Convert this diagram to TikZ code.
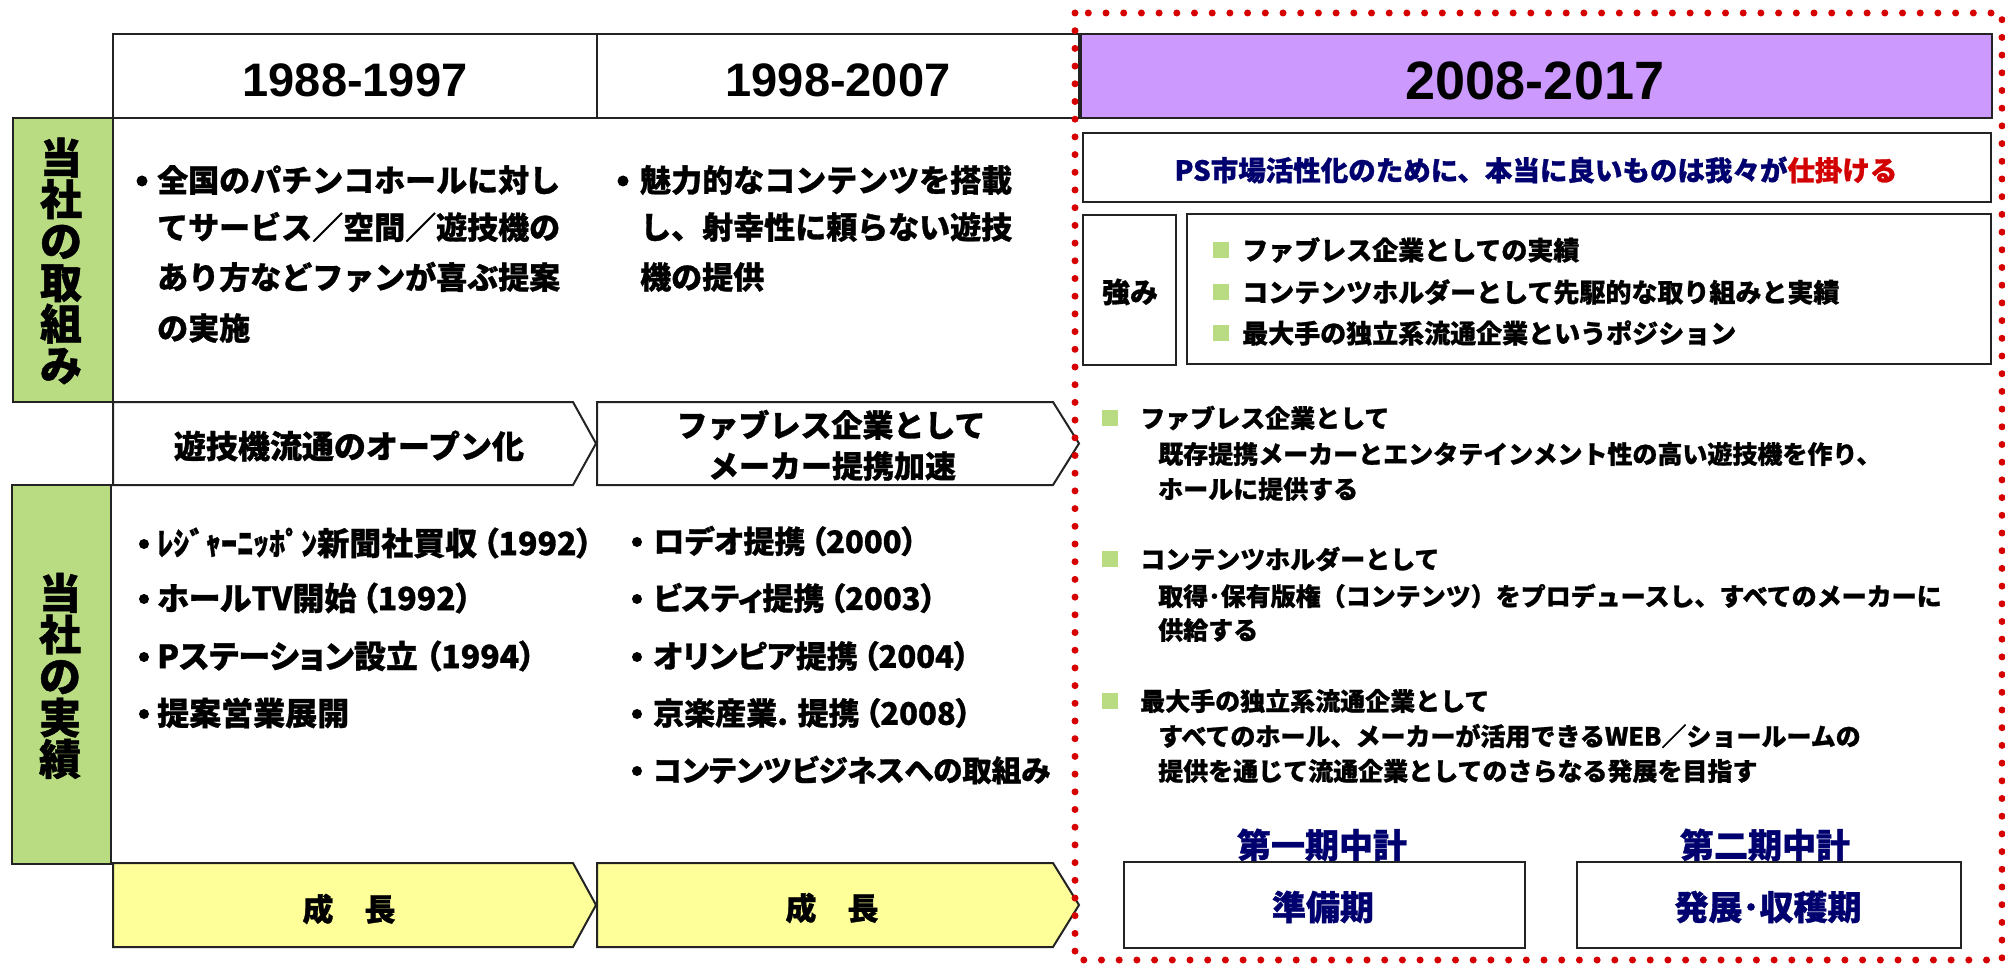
\documentclass[tikz,border=0pt]{standalone}
\usepackage{fontspec}
\setmainfont{Noto Sans CJK JP}[BoldFeatures={FakeBold=1}]
\newfontfamily\pfont{Noto Sans CJK JP}[RawFeature=+palt, BoldFeatures={FakeBold=1}]
\newfontfamily\yfont{Liberation Sans}
\definecolor{lgreen}{RGB}{185,220,130}
\definecolor{lyellow}{RGB}{255,255,153}
\definecolor{lpurple}{RGB}{204,153,255}
\definecolor{navy}{RGB}{0,0,110}
\definecolor{dred}{RGB}{210,0,0}
\definecolor{dotred}{RGB}{215,0,0}
\definecolor{edge}{RGB}{35,35,35}
\newcommand\myfs[1]{\fontsize{#1}{#1}\selectfont\bfseries}
\begin{document}
\begin{tikzpicture}[x=1pt,y=-1pt,
  box/.style={draw=edge, line width=2pt},
  rbox/.style={draw=edge, line width=2.6pt},
  yr/.style={inner sep=0pt, font=\yfont\bfseries\fontsize{47}{47}\selectfont},
  vlab/.style={inner sep=0pt, align=center, font=\fontsize{42}{41.5}\selectfont\bfseries},
  tone/.style={inner sep=0pt, anchor=west, font=\myfs{31}},
  tthree/.style={inner sep=0pt, anchor=west, font=\pfont\myfs{32}},
  tfour/.style={inner sep=0pt, anchor=west, font=\pfont\myfs{31}},
  tarr/.style={inner sep=0pt, font=\myfs{31}},
  tstr/.style={inner sep=0pt, anchor=west, font=\myfs{26}},
  tr/.style={inner sep=0pt, anchor=west, font=\myfs{25}},
  tplan/.style={inner sep=0pt, text=navy, font=\myfs{34}},
  dotb/.style={fill=black},
  sq/.style={fill=lgreen}
]
\useasboundingbox (0,0) rectangle (2005,968);

% ---------- header ----------
\draw[box] (113,34) rectangle (597,118);
\draw[box] (597,34) rectangle (1079,118);
\node[yr] (h1) at (355,80) {1988-1997};
\node[yr] (h2) at (838,80) {1998-2007};

% ---------- row 1 ----------
\draw[box] (113,118) -- (113,402);
\draw[box, fill=lgreen] (13,118) rectangle (113,402);
\node[vlab] (lab1) at (61,261) {当\\社\\の\\取\\組\\み};

\fill[dotb] (142,181) circle (5.5);
\node[tone] (r1a) at (157,180) {全国のパチンコホールに対し};
\node[tone] (r1b) at (157,227) {てサービス／空間／遊技機の};
\node[tone] (r1c) at (157,277) {あり方などファンが喜ぶ提案};
\node[tone] (r1d) at (157,328) {の実施};

\fill[dotb] (623,181) circle (5.5);
\node[tone] (r2a) at (640,180) {魅力的なコンテンツを搭載};
\node[tone] (r2b) at (640,227) {し、射幸性に頼らない遊技};
\node[tone] (r2c) at (640,277) {機の提供};

% ---------- row 2 arrows ----------
\draw[box, fill=white] (113,402) -- (573,402) -- (596,443.5) -- (573,485) -- (113,485) -- cycle;
\draw[box, fill=white] (597,402) -- (1053,402) -- (1079,443.5) -- (1053,485) -- (597,485) -- cycle;
\node[tarr, font=\myfs{32}] (a1) at (349,446) {遊技機流通のオープン化};
\node[tarr] (a2a) at (831,425) {ファブレス企業として};
\node[tarr] (a2b) at (832,466) {メーカー提携加速};

% ---------- row 3 ----------
\draw[box, fill=lgreen] (12,485) rectangle (111,864);
\node[vlab] (lab2) at (60,676) {当\\社\\の\\実\\績};

\fill[dotb] (144,544) circle (5);
\fill[dotb] (144,599) circle (5);
\fill[dotb] (144,657) circle (5);
\fill[dotb] (144,714) circle (5);
\node[tthree] (p1) at (157,543) {ﾚｼﾞｬｰﾆｯﾎﾟﾝ新聞社買収\,（1992）};
\node[tthree] (p2) at (157,598) {ホールTV開始\,（1992）};
\node[tthree] (p3) at (157,656) {Pステーション設立 （1994）};
\node[tthree] (p4) at (157,713) {提案営業展開};

\fill[dotb] (637,542) circle (5);
\fill[dotb] (637,599) circle (5);
\fill[dotb] (637,657) circle (5);
\fill[dotb] (637,714) circle (5);
\fill[dotb] (637,771) circle (5);
\node[tfour] (q1) at (653,541) {ロデオ提携\,（2000）};
\node[tfour] (q2) at (653,598) {ビスティ提携\,（2003）};
\node[tfour] (q3) at (653,656) {オリンピア提携\,（2004）};
\node[tfour] (q4) at (653,713) {京楽産業. 提携\,（2008）};
\node[tfour, font=\pfont\myfs{29.5}] (q5) at (653,770) {コンテンツビジネスへの取組み};

% ---------- row 4 yellow arrows ----------
\draw[box, fill=lyellow] (113,863) -- (573,863) -- (596,905) -- (573,947) -- (113,947) -- cycle;
\draw[box, fill=lyellow] (597,863) -- (1053,863) -- (1079,905) -- (1053,947) -- (597,947) -- cycle;
\node[tarr] (g1) at (349,909) {成　長};
\node[tarr] (g2) at (832,908) {成　長};

% ---------- right section ----------
\draw[rbox, fill=lpurple] (1081,34) rectangle (1992,118);
\node[inner sep=0pt, font=\yfont\bfseries\fontsize{54}{54}\selectfont] (h3) at (1535,81) {2008-2017};

\draw[rbox] (1083,133) rectangle (1991,202);
\node[inner sep=0pt, text=navy, font=\myfs{27.5}] (ps) at (1536,170) {PS市場活性化のために、本当に良いものは我々が\textcolor{dred}{仕掛ける}};

\draw[rbox] (1083,215) rectangle (1176,365);
\node[inner sep=0pt, font=\myfs{28}] (tsuyomi) at (1130,292) {強み};
\draw[rbox] (1187,214) rectangle (1991,364);
\fill[sq] (1213,242) rectangle (1229,258);
\fill[sq] (1213,284) rectangle (1229,300);
\fill[sq] (1213,325) rectangle (1229,341);
\node[tstr] (s1) at (1242,250) {ファブレス企業としての実績};
\node[tstr] (s2) at (1242,292) {コンテンツホルダーとして先駆的な取り組みと実績};
\node[tstr] (s3) at (1242,333) {最大手の独立系流通企業というポジション};

\fill[sq] (1102,410) rectangle (1118,426);
\node[tr] (b1) at (1140,418) {ファブレス企業として};
\node[tr] (b1a) at (1158,454) {既存提携メーカーとエンタテインメント性の高い遊技機を作り、};
\node[tr] (b1b) at (1158,489) {ホールに提供する};

\fill[sq] (1102,551) rectangle (1118,567);
\node[tr] (b2) at (1140,559) {コンテンツホルダーとして};
\node[tr] (b2a) at (1158,596) {取得･保有版権（コンテンツ）をプロデュースし、すべてのメーカーに};
\node[tr] (b2b) at (1158,630) {供給する};

\fill[sq] (1102,693) rectangle (1118,709);
\node[tr] (b3) at (1140,701) {最大手の独立系流通企業として};
\node[tr] (b3a) at (1158,736) {すべてのホール、メーカーが活用できるWEB／ショールームの};
\node[tr] (b3b) at (1158,771) {提供を通じて流通企業としてのさらなる発展を目指す};

\node[tplan] (m1) at (1322,845) {第一期中計};
\node[tplan] (m2) at (1765,845) {第二期中計};
\draw[rbox] (1124,862) rectangle (1525,948);
\draw[rbox] (1577,862) rectangle (1961,948);
\node[tplan] (ph1) at (1323,907) {準備期};
\node[tplan] (ph2) at (1768,907) {発展･収穫期};

% ---------- red dotted frame ----------
\draw[dotred, line width=7pt, line cap=round, dash pattern=on 0pt off 17.7pt] (1075,13) rectangle (2002,960);
\end{tikzpicture}
\end{document}
